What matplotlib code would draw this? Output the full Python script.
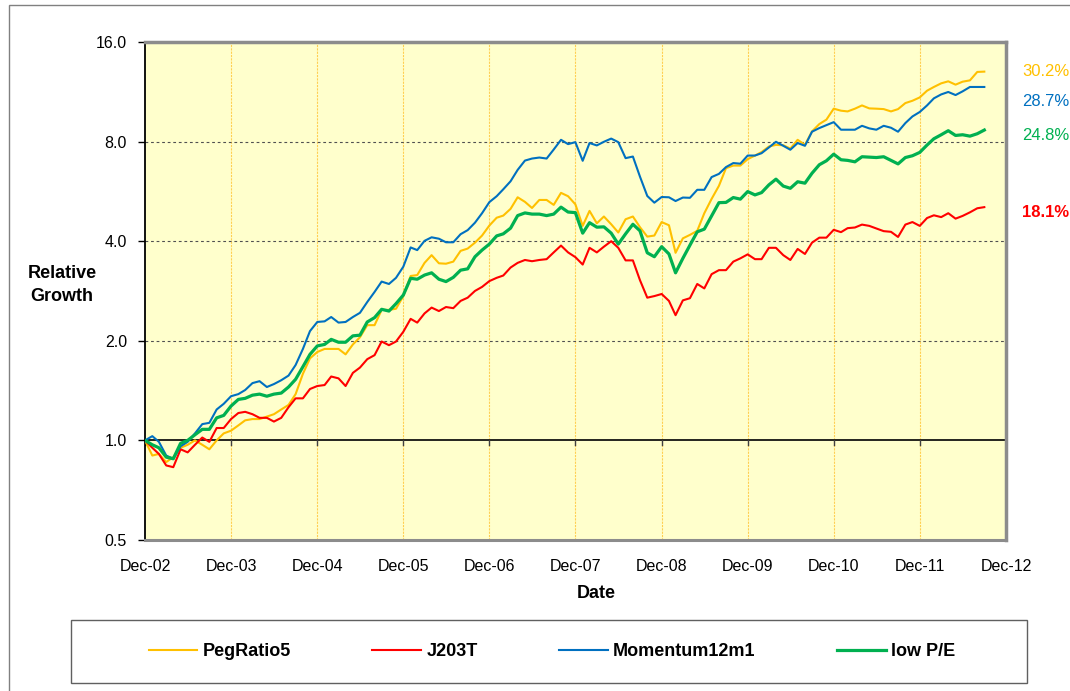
import pandas as pd
import matplotlib
matplotlib.use('Agg')
import matplotlib.pyplot as plt
import matplotlib.dates as mdates
import matplotlib.ticker as mticker
from matplotlib.patches import Rectangle

plt.rcParams['font.family'] = ['Liberation Sans', 'DejaVu Sans']

# Monthly relative growth, Dec-02 .. Sep-12
START = '2002-12-31'

peg_ratio5 = [
    1.00, 0.90, 0.91, 0.86, 0.89, 0.95, 0.97, 1.00, 0.97, 0.94, 1.00, 1.05,
    1.07, 1.11, 1.15, 1.16, 1.16, 1.18, 1.20, 1.24, 1.28, 1.38, 1.59, 1.77,
    1.85, 1.89, 1.89, 1.89, 1.82, 1.95, 2.05, 2.23, 2.23, 2.48, 2.48, 2.50,
    2.73, 3.14, 3.16, 3.44, 3.63, 3.43, 3.42, 3.47, 3.74, 3.80, 3.96, 4.16,
    4.46, 4.71, 4.78, 5.01, 5.43, 5.26, 5.04, 5.33, 5.33, 5.15, 5.60, 5.47,
    5.17, 4.45, 4.94, 4.53, 4.75, 4.50, 4.25, 4.66, 4.75, 4.41, 4.13, 4.16,
    4.57, 4.47, 3.69, 4.08, 4.18, 4.30, 4.86, 5.37, 5.88, 6.65, 6.77, 6.77,
    7.08, 7.26, 7.44, 7.73, 7.82, 7.80, 7.62, 8.10, 7.82, 8.59, 9.04, 9.32,
    10.06, 9.92, 9.87, 10.06, 10.29, 10.08, 10.06, 10.03, 9.87, 10.03, 10.46, 10.63,
    10.88, 11.40, 11.70, 12.00, 12.17, 11.89, 12.14, 12.25, 12.99, 13.02,
]

j203t = [
    1.00, 0.95, 0.91, 0.84, 0.83, 0.94, 0.92, 0.97, 1.02, 0.99, 1.09, 1.09,
    1.16, 1.21, 1.22, 1.20, 1.17, 1.17, 1.14, 1.17, 1.26, 1.34, 1.34, 1.43,
    1.46, 1.47, 1.56, 1.54, 1.46, 1.60, 1.66, 1.76, 1.81, 1.99, 1.94, 1.99,
    2.13, 2.33, 2.27, 2.42, 2.52, 2.46, 2.53, 2.51, 2.64, 2.70, 2.83, 2.91,
    3.03, 3.10, 3.15, 3.33, 3.44, 3.51, 3.48, 3.51, 3.53, 3.70, 3.88, 3.70,
    3.58, 3.40, 3.82, 3.70, 3.85, 4.00, 3.82, 3.50, 3.50, 3.05, 2.70, 2.73,
    2.77, 2.64, 2.39, 2.65, 2.69, 2.97, 2.88, 3.18, 3.27, 3.27, 3.47, 3.55,
    3.65, 3.53, 3.53, 3.82, 3.82, 3.63, 3.51, 3.79, 3.66, 3.96, 4.10, 4.10,
    4.33, 4.26, 4.38, 4.40, 4.49, 4.45, 4.37, 4.29, 4.27, 4.12, 4.49, 4.57,
    4.45, 4.70, 4.79, 4.73, 4.86, 4.68, 4.77, 4.89, 5.03, 5.07,
]

momentum12m1 = [
    1.00, 1.03, 0.99, 0.90, 0.88, 0.96, 0.99, 1.05, 1.12, 1.13, 1.24, 1.29,
    1.36, 1.38, 1.42, 1.49, 1.51, 1.45, 1.48, 1.52, 1.57, 1.69, 1.89, 2.14,
    2.28, 2.29, 2.36, 2.27, 2.28, 2.36, 2.43, 2.62, 2.81, 3.02, 2.97, 3.10,
    3.35, 3.83, 3.76, 4.01, 4.11, 4.07, 3.97, 3.97, 4.20, 4.32, 4.55, 4.86,
    5.25, 5.47, 5.74, 6.07, 6.57, 7.01, 7.11, 7.16, 7.11, 7.57, 8.10, 7.86,
    7.97, 7.00, 7.92, 7.79, 7.99, 8.17, 7.97, 7.13, 7.21, 6.27, 5.48, 5.23,
    5.44, 5.43, 5.29, 5.42, 5.41, 5.72, 5.72, 6.25, 6.39, 6.70, 6.89, 6.86,
    7.26, 7.26, 7.38, 7.68, 7.99, 7.77, 7.56, 7.92, 7.77, 8.57, 8.79, 8.97,
    9.16, 8.69, 8.69, 8.69, 8.93, 8.77, 8.69, 8.93, 8.81, 8.57, 9.10, 9.53,
    9.83, 10.29, 10.81, 11.11, 11.30, 11.06, 11.35, 11.70, 11.70, 11.70,
]

low_pe = [
    1.00, 0.97, 0.95, 0.89, 0.88, 0.98, 1.00, 1.04, 1.08, 1.08, 1.17, 1.19,
    1.27, 1.33, 1.34, 1.37, 1.38, 1.36, 1.38, 1.39, 1.45, 1.53, 1.67, 1.82,
    1.93, 1.95, 2.02, 1.98, 1.98, 2.07, 2.08, 2.28, 2.35, 2.49, 2.46, 2.59,
    2.75, 3.09, 3.07, 3.16, 3.21, 3.07, 3.02, 3.11, 3.27, 3.30, 3.59, 3.76,
    3.92, 4.15, 4.21, 4.38, 4.78, 4.87, 4.83, 4.83, 4.78, 4.83, 5.07, 4.90,
    4.88, 4.23, 4.55, 4.41, 4.42, 4.23, 3.92, 4.21, 4.50, 4.30, 3.69, 3.59,
    3.85, 3.66, 3.21, 3.55, 3.89, 4.27, 4.35, 4.77, 5.23, 5.24, 5.42, 5.36,
    5.65, 5.52, 5.61, 5.92, 6.16, 5.87, 5.78, 6.05, 5.99, 6.42, 6.81, 7.00,
    7.33, 7.05, 7.02, 6.95, 7.20, 7.18, 7.16, 7.20, 7.02, 6.85, 7.16, 7.25,
    7.42, 7.81, 8.16, 8.39, 8.63, 8.35, 8.39, 8.31, 8.45, 8.67,
]

series_names = ['PegRatio5', 'J203T', 'Momentum12m1', 'low P/E']
series_colors = ['#FFC000', '#FF0000', '#0070C0', '#00B050']
series_widths = [1.5, 1.5, 1.5, 2.3]
annual_growth = ['30.2%', '18.1%', '28.7%', '24.8%']

y_ticks = [0.5, 1.0, 2.0, 4.0, 8.0, 16.0]
dashed_levels = [2.0, 4.0, 8.0]
year_ticks = pd.date_range('2002-12-31', '2012-12-31', freq='12ME')

dates = pd.date_range(START, periods=len(peg_ratio5), freq='ME')
all_series = [peg_ratio5, j203t, momentum12m1, low_pe]

W, H = 1070, 691
fig = plt.figure(figsize=(W / 100, H / 100), dpi=100)
ax = fig.add_axes([145 / W, 1 - 540 / H, (1006 - 145) / W, (540 - 42) / H])
ax.set_facecolor('#FFFFCC')

ax.set_yscale('log', base=2)
ax.set_ylim(0.5, 16)
ax.set_xlim(year_ticks[0], year_ticks[-1])

# grid
for d in year_ticks[1:-1]:
    ax.axvline(d, color='#FFB000', lw=0.8, ls=(0, (2, 1)), alpha=0.6, zorder=1)
for lv in dashed_levels:
    ax.axhline(lv, color='#505050', lw=0.8, ls=(0, (2.5, 2.5)), zorder=1)
ax.axhline(1.0, color='black', lw=1.2, zorder=2)
# small tick marks on the 1.0 crossing line
for d in year_ticks:
    ax.plot([d, d], [1.0, 2 ** -0.05], color='#404040', lw=1, zorder=2)

lines = []
for vals, name, col, lw in zip(all_series, series_names, series_colors, series_widths):
    ln, = ax.plot(dates, vals, color=col, lw=lw, label=name, zorder=3)
    lines.append(ln)

ax.set_yticks(y_ticks)
ax.yaxis.set_major_formatter(mticker.FormatStrFormatter('%.1f'))
ax.yaxis.set_minor_locator(mticker.NullLocator())
ax.tick_params(axis='y', length=5, width=1, pad=8, labelsize=11.5, direction='out')

ax.set_xticks(year_ticks)
ax.xaxis.set_major_formatter(mdates.DateFormatter('%b-%y'))
ax.tick_params(axis='x', length=0, pad=14, labelsize=11.5)

for side in ['top', 'right']:
    ax.spines[side].set_color('#8C8C8C')
    ax.spines[side].set_linewidth(2.5)
ax.spines['bottom'].set_color('#8C8C8C')
ax.spines['bottom'].set_linewidth(2.2)
ax.spines['left'].set_color('black')
ax.spines['left'].set_linewidth(1.3)

# axis titles
fig.text(62 / W, 1 - 285 / H, 'Relative\nGrowth', ha='center', va='center',
         fontsize=13, fontweight='bold', linespacing=1.45)
fig.text(596 / W, 1 - 594 / H, 'Date', ha='center', va='center',
         fontsize=13, fontweight='bold')

# annualised growth labels on the right
label_y = {'PegRatio5': 72, 'Momentum12m1': 101, 'low P/E': 135, 'J203T': 212}
for name, col, txt in zip(series_names, series_colors, annual_growth):
    fig.text(1046 / W, 1 - label_y[name] / H, txt, color=col, ha='center', va='center',
             fontsize=12, fontweight='bold' if name == 'J203T' else 'normal')

# legend box
fig.patches.append(Rectangle((71 / W, 1 - 683 / H), (1027 - 71) / W, (683 - 620) / H,
                             transform=fig.transFigure, fill=False,
                             edgecolor='#606060', lw=1))
fig.legend(lines, series_names, loc='center', bbox_to_anchor=(552 / W, 1 - 651.5 / H),
           ncol=4, frameon=False, prop={'weight': 'bold', 'size': 13},
           handlelength=2.7, columnspacing=4.5, handletextpad=0.3)

# outer chart border (left / top visible)
fig.patches.append(Rectangle((9 / W, -0.1), 1.2, 1.1 - 5 / H, transform=fig.transFigure,
                             fill=False, edgecolor='#808080', lw=1))

fig.savefig('out.png', dpi=100)
